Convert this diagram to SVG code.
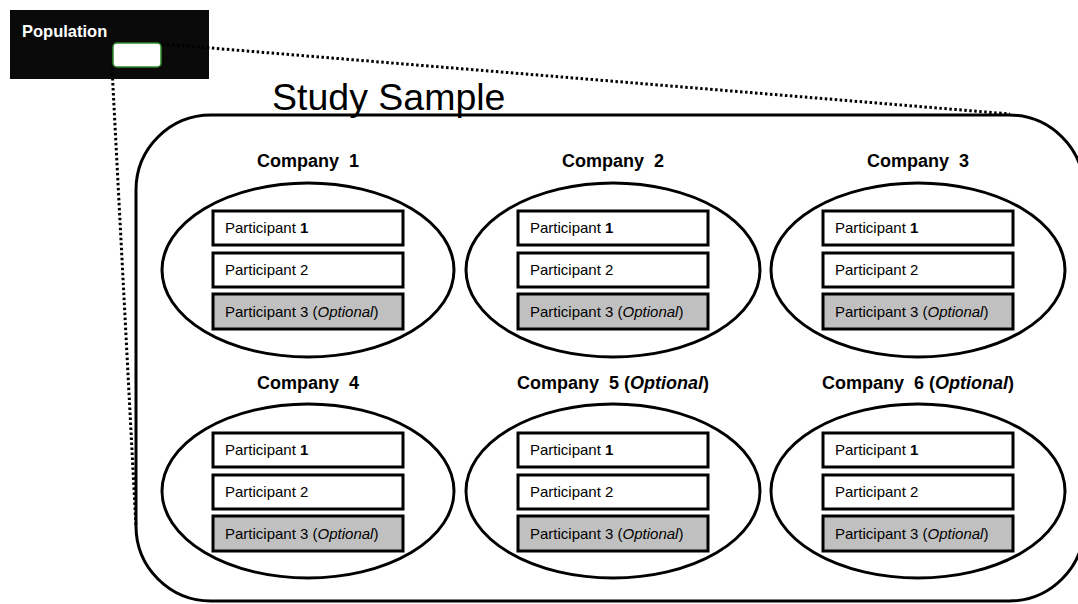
<svg xmlns="http://www.w3.org/2000/svg" width="1078" height="604" viewBox="0 0 1078 604">
<style>
text{font-family:"Liberation Sans",Arial,sans-serif;fill:#000}
.co{font-size:18px;font-weight:bold;text-anchor:middle}
.pt{font-size:15px}
.ell{fill:#fff;stroke:#000;stroke-width:3}
.pb{fill:#fff;stroke:#000;stroke-width:3}
.pg{fill:#c0c0c0;stroke:#000;stroke-width:3}
.dot{fill:none;stroke:#000;stroke-width:3;stroke-dasharray:2.5 2.5}
</style>
<rect width="1078" height="604" fill="#fff"/>
<g id="study-sample">
<rect x="136" y="115" width="948" height="486" rx="75" ry="75" fill="#fff" stroke="#000" stroke-width="3"/>
<text x="272" y="110" style="font-size:37.5px">Study Sample</text>
</g>
<g id="population">
<rect x="10" y="10" width="199" height="69" fill="#0a0a0a"/>
<text x="22" y="37" style="font-size:16.5px;font-weight:bold;fill:#fff">Population</text>
<rect x="113" y="43" width="48" height="24" rx="4" fill="#fff" stroke="#2e8b2e" stroke-width="1.5"/>
</g>
<g id="connectors">
<line class="dot" x1="162" y1="44" x2="1010" y2="114"/>
<line class="dot" x1="112" y1="68" x2="136" y2="527"/>
</g>
<defs>
<g id="parts">
<rect class="pb" x="-95" y="-59" width="190" height="34"/>
<rect class="pb" x="-95" y="-17" width="190" height="34"/>
<rect class="pg" x="-95" y="24" width="190" height="35"/>
<text class="pt" x="-83" y="-37">Participant <tspan font-weight="bold">1</tspan></text>
<text class="pt" x="-83" y="5">Participant 2</text>
<text class="pt" x="-83" y="47">Participant 3 (<tspan font-style="italic">Optional</tspan>)</text>
</g>
</defs>
<g id="company1">
<text class="co" x="308" y="167" xml:space="preserve">Company  1</text>
<ellipse class="ell" cx="308" cy="270" rx="146" ry="87"/>
<use href="#parts" x="308" y="270"/>
</g>
<g id="company2">
<text class="co" x="613" y="167" xml:space="preserve">Company  2</text>
<ellipse class="ell" cx="613" cy="270" rx="147" ry="87"/>
<use href="#parts" x="613" y="270"/>
</g>
<g id="company3">
<text class="co" x="918" y="167" xml:space="preserve">Company  3</text>
<ellipse class="ell" cx="918" cy="270" rx="147" ry="87"/>
<use href="#parts" x="918" y="270"/>
</g>
<g id="company4">
<text class="co" x="308" y="389" xml:space="preserve">Company  4</text>
<ellipse class="ell" cx="308" cy="491" rx="146" ry="87"/>
<use href="#parts" x="308" y="492"/>
</g>
<g id="company5">
<text class="co" x="613" y="389" xml:space="preserve">Company  5 (<tspan font-style="italic">Optional</tspan>)</text>
<ellipse class="ell" cx="613" cy="491" rx="147" ry="87"/>
<use href="#parts" x="613" y="492"/>
</g>
<g id="company6">
<text class="co" x="918" y="389" xml:space="preserve">Company  6 (<tspan font-style="italic">Optional</tspan>)</text>
<ellipse class="ell" cx="918" cy="491" rx="147" ry="87"/>
<use href="#parts" x="918" y="492"/>
</g>
</svg>
